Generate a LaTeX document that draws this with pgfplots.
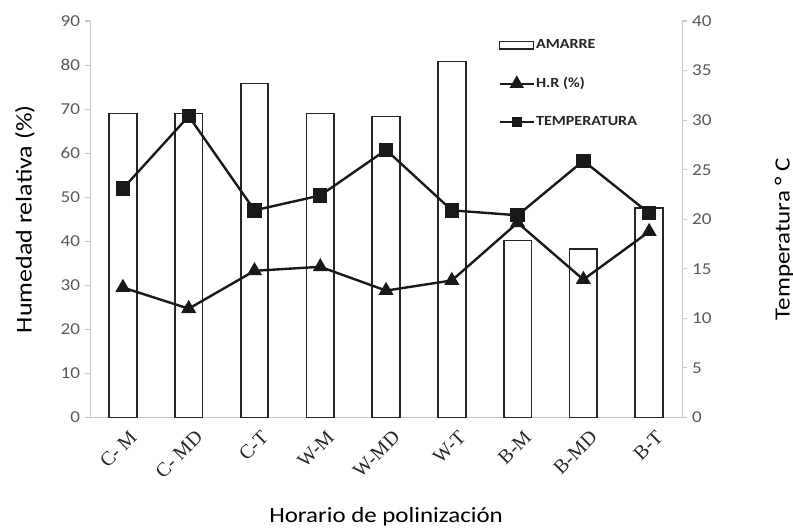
\documentclass[border=0pt]{standalone}
\usepackage{pgfplots}
\pgfplotsset{compat=1.18}
\usepackage{fontspec}
\setmainfont{Carlito}[FakeStretch=1.15]
\newfontfamily\serifx{Liberation Serif}
\definecolor{axgray}{HTML}{C8C8C8}
\definecolor{tickgray}{HTML}{595959}
\pgfplotsset{
  barlegend/.style={legend image code/.code={\draw[#1, line width=1pt] (0cm,-0.1cm) rectangle (0.9cm,0.1cm);}},
  linelegend/.style={legend image code/.code={\draw[#1, line width=1.4pt, mark repeat=3, mark phase=2] plot coordinates {(0cm,0cm) (0.45cm,0cm) (0.9cm,0cm)};}},
}
\begin{document}
\begin{tikzpicture}
\pgfplotsset{
  base/.style={
    scale only axis, width=445pt, height=298pt,
    xmin=-0.5, xmax=8.5,
    /pgf/number format/assume math mode=true,
    tick style={axgray, line width=0.8pt},
    major tick length=4pt,
    tick align=outside,
    ticklabel style={font=\fontsize{12.5}{14}\selectfont, text=tickgray},
    axis line style={axgray, line width=0.8pt},
  }
}
\begin{axis}[base,
  axis x line*=bottom, axis y line*=left,
  ymin=0, ymax=90, ytick={0,10,...,90},
  xtick={0,...,8},
  xticklabels={C- M, C- MD, C-T, W-M, W-MD, W-T, B-M, B-MD, B-T},
  xtick style={draw=none},
  minor xtick={-0.5,2.5,5.5,8.5},
  minor tick length=4pt,
  xticklabel style={font=\serifx\fontsize{15}{17}\selectfont, text=black!85, rotate=45, anchor=north east, yshift=-3pt, xshift=3pt},
  xlabel={Horario de polinización},
  xlabel style={font=\fontsize{16.3}{19}\selectfont, at={(axis description cs:0.5,-0.25)}, anchor=center},
  ylabel={Humedad relativa (\%)},
  ylabel style={font=\fontsize{17}{20}\selectfont, at={(axis description cs:-0.11,0.5)}, anchor=center, rotate=0},
  legend style={at={(axis description cs:0.69,0.96)}, anchor=north west, draw=none, fill=none,
    font=\bfseries\fontsize{10.5}{12}\selectfont, text=black!85, row sep=16pt, inner sep=0pt,
    nodes={inner xsep=1pt}},
  legend cell align=left,
]
\addplot[ybar, bar width=0.42, fill=white, draw=black!85, line width=1.3pt, barlegend] coordinates {
  (0,69.0) (1,69.0) (2,75.8) (3,69.0) (4,68.3) (5,80.8) (6,40.2) (7,38.3) (8,47.6)};
\addlegendentry{AMARRE}
\addplot[black!90, line width=1.8pt, mark=triangle*, mark size=4.8pt, mark options={solid}, linelegend] coordinates {
  (0,29.5) (1,24.7) (2,33.3) (3,34.2) (4,28.8) (5,31.1) (6,44.2) (7,31.3) (8,42.2)};
\addlegendentry{H.R (\%)}
\addlegendimage{black!90, mark=square*, mark size=3pt, linelegend}
\addlegendentry{TEMPERATURA}
\end{axis}
\begin{axis}[base,
  axis y line*=right, axis x line=none,
  ymin=0, ymax=40, ytick={0,5,...,40},
  ylabel={Temperatura ° C},
  ylabel style={font=\fontsize{16.3}{19}\selectfont, at={(axis description cs:1.172,0.45)}, anchor=center, rotate=0},
]
\addplot[black!90, line width=1.8pt, mark=square*, mark size=4.5pt] coordinates {
  (0,23.1) (1,30.4) (2,20.9) (3,22.4) (4,27.0) (5,20.9) (6,20.4) (7,25.9) (8,20.6)};
\end{axis}
\pgfresetboundingbox
\useasboundingbox ([xshift=-67.7pt,yshift=-85.7pt]current axis.south west) rectangle ([xshift=83.4pt,yshift=15.8pt]current axis.north east);
\end{tikzpicture}
\end{document}
